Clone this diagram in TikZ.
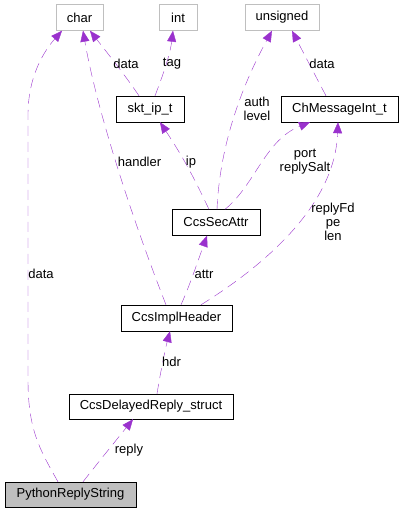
\documentclass[tikz,border=0pt]{standalone}
\usepackage{fontspec}
\setmainfont{Liberation Sans}
\usetikzlibrary{arrows.meta}
\definecolor{usecol}{HTML}{9A32CD}
\definecolor{boxgray}{HTML}{BFBFBF}

\begin{document}
\begin{tikzpicture}[x=1pt, y=-1pt,
    cls/.style={rectangle, draw=black, fill=white, minimum height=26pt, inner sep=0pt, font=\fontsize{13}{14}\selectfont},
    basic/.style={cls, draw=boxgray},
    start/.style={cls, fill=boxgray},
    use/.style={usecol, dash pattern=on 10pt off 6pt, -{Triangle[length=11pt, width=9pt]}},
    lbl/.style={font=\fontsize{13}{14}\selectfont, align=center, inner sep=0pt}
]
\useasboundingbox (0,0) rectangle (401,512);

% Basic types (top row)
\node[basic, minimum width=47pt] (char) at (79.5,17.5) {char};
\node[basic, minimum width=38pt] (int) at (178,17.5) {int};
\node[basic, minimum width=74pt] (unsigned) at (282,17.5) {unsigned};

% Structures
\node[cls, minimum width=68pt] (sktip) at (150,109) {skt\_ip\_t};
\node[cls, minimum width=117pt] (chmsg) at (339.5,109) {ChMessageInt\_t};
\node[cls, minimum width=88pt] (secattr) at (216,222.5) {CcsSecAttr};
\node[cls, minimum width=111pt] (implhdr) at (176.5,318) {CcsImplHeader};
\node[cls, minimum width=164pt, minimum height=25pt] (delayed) at (151,406.5) {CcsDelayedReply\_struct};
\node[start, minimum width=131pt, minimum height=25pt] (pyreply) at (70.5,494.5) {PythonReplyString};

% PythonReplyString members
\draw[use] ([xshift=-12.5pt]pyreply.north) .. controls (40,450) and (28,430) .. (28,380)
    -- (28,115) .. controls (28,75) and (45,50) .. ([xshift=-17.5pt]char.south);
\node[lbl] (lbldata1) at (41,274) {data};
\draw[use] ([xshift=12.5pt]pyreply.north) .. controls (100,460) and (118,438) .. ([xshift=-18pt]delayed.south);
\node[lbl] (lblreply) at (129,450) {reply};

% CcsDelayedReply_struct members
\draw[use] ([xshift=6pt]delayed.north) .. controls (160,375) and (165,350) .. ([xshift=-6.5pt]implhdr.south);
\node[lbl] (lblhdr) at (171.5,362) {hdr};

% CcsImplHeader members
\draw[use] ([xshift=-10.5pt]implhdr.north) .. controls (125,200) and (95,100) .. ([xshift=3.5pt]char.south);
\node[lbl] (lblhandler) at (139.5,162) {handler};
\draw[use] ([xshift=4.5pt]implhdr.north) .. controls (190,285) and (200,255) .. ([xshift=-9pt]secattr.south);
\node[lbl] (lblattr) at (204,274) {attr};
\draw[use] ([xshift=24.5pt]implhdr.north) .. controls (265,265) and (335,205) .. ([xshift=-1.5pt]chmsg.south);
\node[lbl] (lblreplyfd) at (333,222) {replyFd\\pe\\len};

% CcsSecAttr members
\draw[use] ([xshift=-7pt]secattr.north) .. controls (195,180) and (185,160) .. ([xshift=10pt]sktip.south);
\node[lbl] (lblip) at (191,162) {ip};
\draw[use] ([xshift=1pt]secattr.north) .. controls (220,140) and (245,80) .. ([xshift=-10pt]unsigned.south);
\node[lbl] (lblauth) at (257,109) {auth\\level};
\draw[use] ([xshift=9pt]secattr.north) .. controls (255,185) and (265,140) .. ([xshift=-29.5pt]chmsg.south);
\node[lbl] (lblport) at (305,162) {port\\replySalt};

% skt_ip_t and ChMessageInt_t members
\draw[use] ([xshift=-11pt]sktip.north) .. controls (125,75) and (105,50) .. ([xshift=10.5pt]char.south);
\node[lbl] (lbldata2) at (126,64) {data};
\draw[use] ([xshift=5pt]sktip.north) .. controls (163,75) and (170,55) .. ([xshift=-5pt]int.south);
\node[lbl] (lbltag) at (172,64) {tag};
\draw[use] ([xshift=-13.5pt]chmsg.north) .. controls (315,75) and (302,50) .. ([xshift=10pt]unsigned.south);
\node[lbl] (lbldata3) at (322,64) {data};

\end{tikzpicture}
\end{document}
